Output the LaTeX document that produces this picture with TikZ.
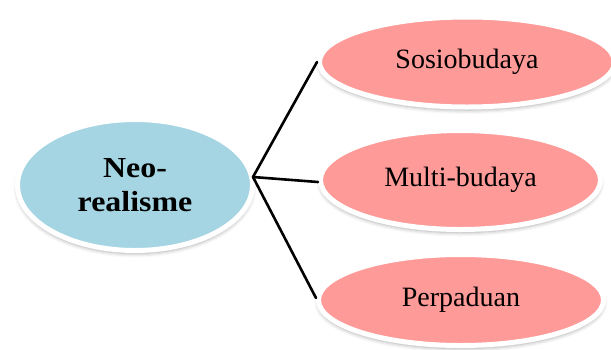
\documentclass[tikz,border=0pt]{standalone}
\usepackage{fontspec}
\setmainfont{Liberation Serif}
\newfontfamily\boldish[FakeStretch=1.1]{Liberation Serif}
\usetikzlibrary{shapes.geometric,shadows.blur}
\definecolor{pinkfill}{HTML}{FE9A98}
\definecolor{bluefill}{HTML}{A5D5E3}
\tikzset{
  bubble/.style={ellipse, draw=white, line width=5pt, inner sep=0pt,
    blur shadow={shadow xshift=0pt, shadow yshift=-3pt, shadow blur radius=4pt, shadow opacity=35}},
  leaf/.style={bubble, fill=pinkfill, font=\fontsize{28}{32}\selectfont},
  root/.style={bubble, fill=bluefill, align=center, font=\boldish\bfseries\fontsize{29}{34}\selectfont},
  link/.style={line width=2.6pt, black, line cap=round}
}
\begin{document}
\begin{tikzpicture}[x=1pt,y=-1pt]
\useasboundingbox (0,0) rectangle (611,349);
\node[root, minimum width=235pt, minimum height=131pt] (L) at (135,185) {Neo-\\realisme};
\node[leaf, minimum width=295pt, minimum height=90pt] (T) at (467,62) {Sosiobudaya};
\node[leaf, minimum width=280pt, minimum height=99pt] (M) at (460.5,180) {Multi-budaya};
\node[leaf, minimum width=285pt, minimum height=91pt] (B) at (461,300) {Perpaduan};
\coordinate (hub) at ([xshift=-2pt,yshift=8pt]L.east);
\draw[link] (hub) -- ([yshift=0pt]T.west);
\draw[link] (hub) -- ([yshift=-2pt]M.west);
\draw[link] (hub) -- ([yshift=2pt]B.west);
\end{tikzpicture}
\end{document}
